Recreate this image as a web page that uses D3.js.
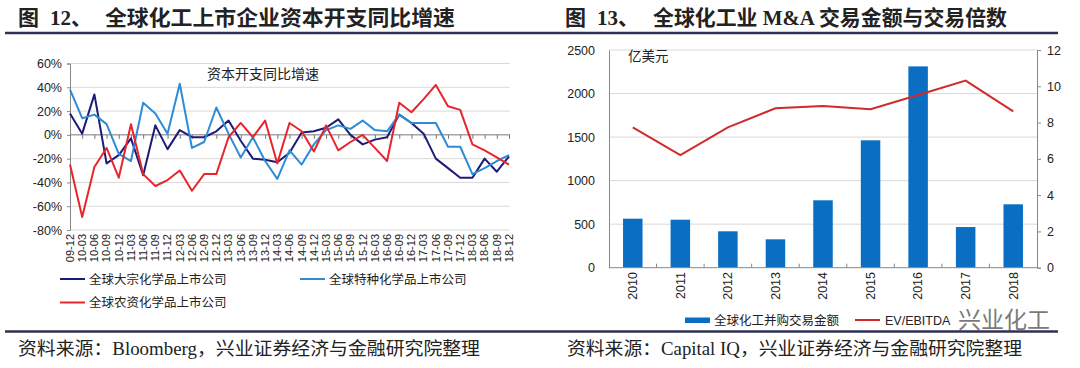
<!DOCTYPE html>
<html><head><meta charset="utf-8">
<script src="https://cdn.jsdelivr.net/npm/d3@7/dist/d3.min.js"></script>
<style>
body{margin:0;background:#fff;}
svg{display:block;}
text{font-family:"Liberation Sans","Noto Sans CJK SC",sans-serif;fill:#222;}
</style></head>
<body>
<svg id="c" width="1080" height="368"></svg>
<script>
// ---- Left chart data (YoY capex growth, %) ----
const quarters = ["09-12","10-03","10-06","10-09","10-12","11-03","11-06","11-09","11-12","12-03","12-06","12-09","12-12","13-03","13-06","13-09","13-12","14-03","14-06","14-09","14-12","15-03","15-06","15-09","15-12","16-03","16-06","16-09","16-12","17-03","17-06","17-09","17-12","18-03","18-06","18-09","18-12"];
const commodity = [18,1,34,-24,-17,-3,-34,8,-12,4,-2,-2,3,12,-5,-20,-21,-23,-15,2,3,6,13,0,-8,-4,-2,17,10,1,-20,-28,-36,-36,-20,-31,-18];
const specialty = [38,14,17,9,-16,-22,27,18,1,43,-11,-6,23,1,-19,-2,-22,-37,-13,-25,-8,4,8,5,12,4,3,17,10,10,10,-10,-10,-33,-28,-22,-17];
const agri = [-25,-69,-27,-11,-36,9,-33,-43,-38,-30,-47,-33,-33,-2,10,-2,12,-24,10,3,-14,8,-13,-6,0,-11,-22,27,19,30,42,24,21,-8,-13,-19,-25];
const leftTicks = [-80,-60,-40,-20,0,20,40,60];
const leftSeriesNames = ["全球大宗化学品上市公司","全球特种化学品上市公司","全球农资化学品上市公司"];

// ---- Right chart data ----
const years = ["2010","2011","2012","2013","2014","2015","2016","2017","2018"];
const dealValue = [563,551,418,326,774,1463,2312,467,728];   // 亿美元
const evEbitda = [7.74,6.21,7.74,8.79,8.91,8.73,9.52,10.31,8.62];
const rightLeftTicks = [0,500,1000,1500,2000,2500];
const rightRightTicks = [0,2,4,6,8,10,12];
const rightSeriesNames = ["全球化工并购交易金额","EV/EBITDA"];

const svg = d3.select("#c");
const navy = "#1c1c78", lblue = "#2e8bd6", red = "#e8252d", barBlue = "#0a6fc2", lineRed = "#d22a2a";
const frame = "#2f3154";

// ---------- Titles ----------
function title(x0, num, main, mainX, mainEnd){
  svg.append("text").attr("x",x0).attr("y",25).attr("font-size",21).attr("font-weight","bold")
     .style("font-family","'Noto Sans CJK SC'").text("图");
  svg.append("text").attr("x",x0+32).attr("y",25).attr("font-size",21).attr("font-weight","bold")
     .style("font-family","'Liberation Serif','Noto Sans CJK SC'").text(num);
  svg.append("text").attr("x",mainX).attr("y",25).attr("font-size",21).attr("font-weight","bold")
     .style("font-family","'Liberation Serif','Noto Sans CJK SC'")
     .attr("textLength",mainEnd-mainX).attr("lengthAdjust","spacingAndGlyphs").text(main);
}
title(18,"12、","全球化工上市企业资本开支同比增速",105,455);
title(565,"13、","全球化工业 M&A 交易金额与交易倍数",653,1007);
svg.append("line").attr("x1",5).attr("x2",1058).attr("y1",33).attr("y2",33).attr("stroke",frame).attr("stroke-width",2.5);
svg.append("line").attr("x1",5).attr("x2",1058).attr("y1",331.5).attr("y2",331.5).attr("stroke",frame).attr("stroke-width",2.5);

svg.append("text").attr("x",18).attr("y",355).attr("font-size",18)
   .style("font-family","'Liberation Serif','Noto Sans CJK SC'")
   .attr("textLength",462).attr("lengthAdjust","spacingAndGlyphs")
   .text("资料来源：Bloomberg，兴业证券经济与金融研究院整理");
svg.append("text").attr("x",567).attr("y",355).attr("font-size",18)
   .style("font-family","'Liberation Serif','Noto Sans CJK SC'")
   .attr("textLength",455).attr("lengthAdjust","spacingAndGlyphs")
   .text("资料来源：Capital IQ，兴业证券经济与金融研究院整理");

// ---------- Left chart ----------
const xL = d3.scalePoint().domain(quarters).range([70,509]);
const yL = d3.scaleLinear().domain([-80,60]).range([230,63.5]);
const gL = svg.append("g");
gL.selectAll("line.grid").data(leftTicks.filter(d=>d!==0)).join("line")
  .attr("x1",70).attr("x2",510).attr("y1",d=>yL(d)).attr("y2",d=>yL(d))
  .attr("stroke","#d9d9d9").attr("stroke-width",1);
const yAxisL = gL.append("g").attr("transform","translate(70,0)")
  .call(d3.axisLeft(yL).tickValues(leftTicks).tickFormat(d=>d+"%").tickSize(3).tickPadding(5));
yAxisL.select(".domain").attr("stroke","#888");
yAxisL.selectAll(".tick line").attr("stroke","#888");
yAxisL.selectAll("text").attr("font-size",12.5).attr("fill","#333");
const xAxisL = gL.append("g").attr("transform",`translate(0,${yL(0)})`)
  .call(d3.axisBottom(xL).tickSize(4).tickFormat(""));
xAxisL.select(".domain").attr("stroke","#777").attr("d",`M70,0H510`);
xAxisL.selectAll(".tick line").attr("stroke","#777");
gL.selectAll("text.xl").data(quarters).join("text").attr("class","xl")
  .attr("transform",d=>`translate(${xL(d)},234) rotate(-90)`)
  .attr("text-anchor","end").attr("dy","0.35em").attr("font-size",11).attr("fill","#333").text(d=>d);

const lineL = d3.line().x((d,i)=>xL(quarters[i])).y(d=>yL(d));
[[commodity,navy],[specialty,lblue],[agri,red]].forEach(([arr,col])=>{
  gL.append("path").datum(arr).attr("d",lineL).attr("fill","none").attr("stroke",col)
    .attr("stroke-width",2).attr("stroke-linejoin","round");
});
gL.append("text").attr("x",207).attr("y",79).attr("font-size",14).attr("fill","#222").text("资本开支同比增速");
const legL = [[60,279,navy,leftSeriesNames[0]],[300,279,lblue,leftSeriesNames[1]],[60,302.5,red,leftSeriesNames[2]]];
legL.forEach(([x,y,c,t])=>{
  gL.append("line").attr("x1",x).attr("x2",x+25).attr("y1",y).attr("y2",y).attr("stroke",c).attr("stroke-width",2);
  gL.append("text").attr("x",x+29).attr("y",y+4.5).attr("font-size",12.5).attr("fill","#333").text(t);
});

// ---------- Right chart ----------
const xR = d3.scaleBand().domain(years).range([609,1037]).padding(0);
const yR = d3.scaleLinear().domain([0,2500]).range([267.7,50]);
const yR2 = d3.scaleLinear().domain([0,12]).range([267.7,50]);
const gR = svg.append("g");
gR.selectAll("line.grid").data(rightLeftTicks.filter(d=>d>0)).join("line")
  .attr("x1",609).attr("x2",1037).attr("y1",d=>yR(d)).attr("y2",d=>yR(d))
  .attr("stroke","#d9d9d9").attr("stroke-width",1);
const bw = xR.bandwidth()*0.41;
gR.selectAll("rect.bar").data(dealValue).join("rect")
  .attr("x",(d,i)=>xR(years[i])+xR.bandwidth()/2-bw/2).attr("width",bw)
  .attr("y",d=>yR(d)).attr("height",d=>yR(0)-yR(d)).attr("fill",barBlue);
const axL = gR.append("g").attr("transform","translate(609,0)")
  .call(d3.axisLeft(yR).tickValues(rightLeftTicks).tickFormat(d3.format("d")).tickSize(0).tickPadding(14));
axL.select(".domain").attr("stroke","#888");
axL.selectAll("text").attr("font-size",12.5).attr("fill","#333");
const axR = gR.append("g").attr("transform","translate(1037,0)")
  .call(d3.axisRight(yR2).tickValues(rightRightTicks).tickSize(4).tickPadding(6));
axR.select(".domain").attr("stroke","#888");
axR.selectAll(".tick line").attr("stroke","#888");
axR.selectAll("text").attr("font-size",12.5).attr("fill","#333");
gR.append("line").attr("x1",609).attr("x2",1037).attr("y1",yR(0)).attr("y2",yR(0)).attr("stroke","#888");
gR.selectAll("line.bt").data(years.slice(1)).join("line")
  .attr("x1",d=>xR(d)).attr("x2",d=>xR(d)).attr("y1",yR(0)).attr("y2",yR(0)-4).attr("stroke","#888");
gR.selectAll("text.xr").data(years).join("text").attr("class","xr")
  .attr("transform",d=>`translate(${xR(d)+xR.bandwidth()/2},272) rotate(-90)`)
  .attr("text-anchor","end").attr("dy","0.35em").attr("font-size",12.5).attr("fill","#333").text(d=>d);
const lineR = d3.line().x((d,i)=>xR(years[i])+xR.bandwidth()/2).y(d=>yR2(d));
gR.append("path").datum(evEbitda).attr("d",lineR).attr("fill","none").attr("stroke",lineRed).attr("stroke-width",2);
gR.append("text").attr("x",628).attr("y",61).attr("font-size",13.5).attr("fill","#222").text("亿美元");
gR.append("rect").attr("x",685).attr("y",317.5).attr("width",25).attr("height",5.5).attr("fill",barBlue);
gR.append("text").attr("x",714).attr("y",325).attr("font-size",12.5).attr("fill","#333").text(rightSeriesNames[0]);
gR.append("line").attr("x1",855).attr("x2",880).attr("y1",320).attr("y2",320).attr("stroke",lineRed).attr("stroke-width",2);
gR.append("text").attr("x",885).attr("y",325).attr("font-size",12.5).attr("fill","#333").text(rightSeriesNames[1]);
// watermark
gR.append("text").attr("x",958).attr("y",328).attr("font-size",23).attr("fill","#bbb").attr("opacity",0.6).text("兴业化工");
</script>
</body></html>
